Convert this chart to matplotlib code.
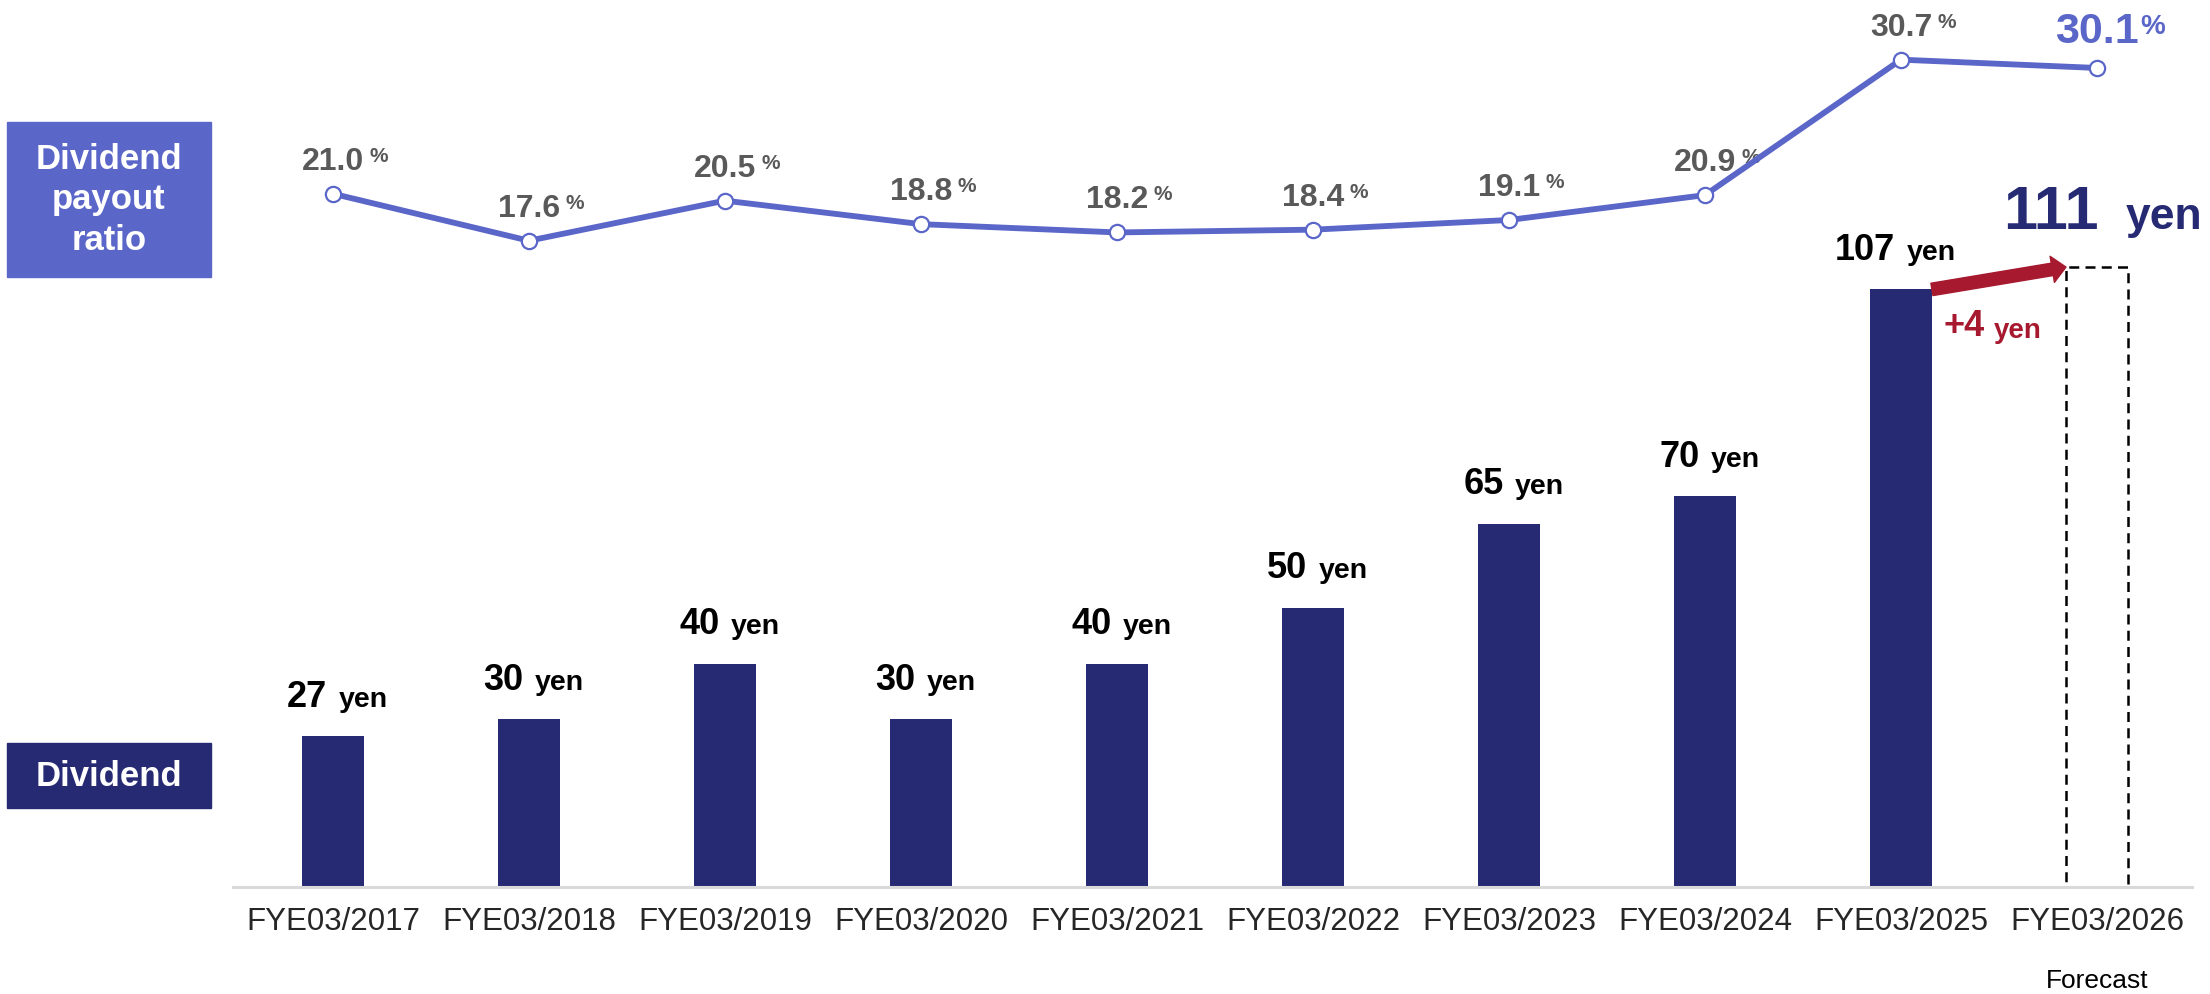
import numpy as np
import matplotlib
matplotlib.use('Agg')
import matplotlib.pyplot as plt
from matplotlib.patches import Rectangle
import matplotlib.transforms as mtransforms

plt.rcParams['font.family'] = ['Liberation Sans', 'DejaVu Sans']

# data
years = ['FYE03/2017', 'FYE03/2018', 'FYE03/2019', 'FYE03/2020', 'FYE03/2021',
         'FYE03/2022', 'FYE03/2023', 'FYE03/2024', 'FYE03/2025', 'FYE03/2026']
dividend = [27, 30, 40, 30, 40, 50, 65, 70, 107, 111]
payout = [21.0, 17.6, 20.5, 18.8, 18.2, 18.4, 19.1, 20.9, 30.7, 30.1]
forecast_note = 'Forecast'

NAVY = '#262a73'
BLUE = '#5b66c9'
GRAY = '#595959'
RED = '#a6192e'

W, H = 2210, 995
fig = plt.figure(figsize=(W / 100, H / 100), dpi=100)
ax = fig.add_axes([233 / W, 107 / H, 1959 / W, 888 / H])
ax2 = ax.twinx()

x = np.arange(len(years))
bw = 0.316

# actual bars + dashed forecast bar
ax.bar(x[:-1], dividend[:-1], width=bw, color=NAVY, zorder=1)
ax.bar(x[-1], dividend[-1], width=bw, fill=False, edgecolor='black',
       linestyle=(0, (4, 2.5)), linewidth=1.8, zorder=1)

ax.set_xlim(-0.51, 9.485)
ax.set_ylim(0, 159.0)
ax2.set_ylim(-29.16, 35.09)

for a in (ax, ax2):
    for s in ('top', 'right', 'left'):
        a.spines[s].set_visible(False)
    a.set_yticks([])
ax2.spines['bottom'].set_visible(False)
ax.spines['bottom'].set_color('#d9d9d9')
ax.spines['bottom'].set_linewidth(2.2)
ax.spines['bottom'].set_zorder(3)

ax.set_xticks(x)
ax.set_xticklabels(years, fontsize=22.5, color='#262626')
ax.tick_params(axis='x', length=0, pad=14)


def yen_label(xv, yv, num, ns, ys, color, dy, gap=8, shift=0):
    ax.annotate(num, xy=(xv, yv), xytext=(shift - gap / 2, dy), textcoords='offset points',
                ha='right', va='baseline', fontsize=ns, fontweight='bold', color=color)
    ax.annotate('yen', xy=(xv, yv), xytext=(shift + gap / 2, dy), textcoords='offset points',
                ha='left', va='baseline', fontsize=ys, fontweight='bold', color=color)


for i in range(len(dividend) - 1):
    yen_label(x[i], dividend[i], str(dividend[i]), 26, 20.5, 'black', 22)
yen_label(x[-1], dividend[-1], str(dividend[-1]), 44, 32, NAVY, 28, gap=19, shift=11)

# +4 yen arrow
ax.annotate('', xy=(x[-1] - bw / 2, dividend[-1]), xytext=(x[-2] + bw / 2, dividend[-2]),
            arrowprops=dict(arrowstyle='simple,tail_width=0.9,head_width=1.9,head_length=1.0',
                            color=RED, shrinkA=0, shrinkB=0, mutation_scale=10), zorder=4)
diff = dividend[-1] - dividend[-2]
t = ax.annotate(f'+{diff}', xy=(x[-2] + bw / 2, dividend[-2]), xytext=(8, -33),
                textcoords='offset points', ha='left', va='baseline',
                fontsize=26, fontweight='bold', color=RED)
ax.annotate('yen', xy=(1, 0), xycoords=t, xytext=(7, 0), textcoords='offset points',
            ha='left', va='bottom', fontsize=20, fontweight='bold', color=RED)

# payout ratio line
ax2.plot(x, payout, color=BLUE, linewidth=4.2, marker='o', markersize=11,
         markerfacecolor='white', markeredgecolor=BLUE, markeredgewidth=1.6, zorder=5)

for i, v in enumerate(payout):
    last = i == len(payout) - 1
    ns, ps, col, dy = (31, 20, BLUE, 19) if last else (23, 15, GRAY, 18)
    t = ax2.annotate(f'{v:.1f}', xy=(x[i], v), xytext=(0, dy), textcoords='offset points',
                     ha='center', va='baseline', fontsize=ns, fontweight='bold', color=col)
    ax2.annotate('%', xy=(1, 1), xycoords=t, xytext=(1 if last else 4, -2 if last else 0),
                 textcoords='offset points', ha='left', va='top',
                 fontsize=ps, fontweight='bold', color=col)

# Forecast note under last tick
trans = mtransforms.blended_transform_factory(ax.transData, fig.transFigure)
ax.text(x[-1], 7 / H, forecast_note, transform=trans, ha='center', va='baseline',
        fontsize=19, color='black')

# left legend boxes
fig.patches.append(Rectangle((7 / W, 1 - 278 / H), 204 / W, 155 / H,
                             transform=fig.transFigure, color=BLUE, zorder=0))
fig.text(109 / W, 1 - 200 / H, 'Dividend\npayout\nratio', ha='center', va='center',
         fontsize=25, fontweight='bold', color='white', linespacing=1.3)
fig.patches.append(Rectangle((7 / W, 1 - 809 / H), 204 / W, 65 / H,
                             transform=fig.transFigure, color=NAVY, zorder=0))
fig.text(109 / W, 1 - 777 / H, 'Dividend', ha='center', va='center',
         fontsize=25, fontweight='bold', color='white')

fig.savefig('out.png', dpi=100)
